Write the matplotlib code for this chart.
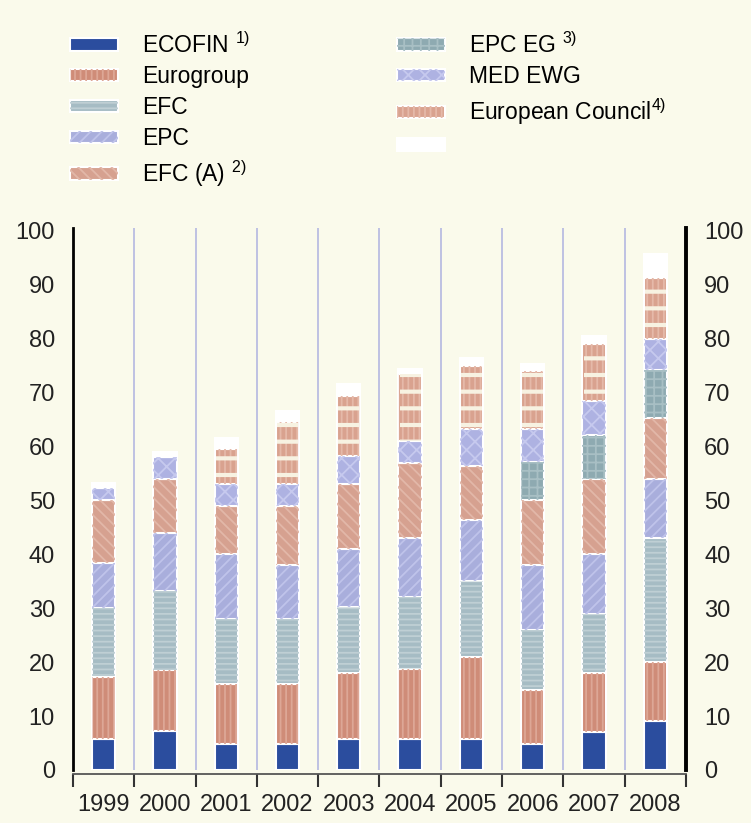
import numpy as np
import matplotlib
matplotlib.use('Agg')
import matplotlib.pyplot as plt

plt.rcParams['font.family'] = ['Liberation Sans', 'DejaVu Sans']
plt.rcParams['mathtext.fontset'] = 'custom'
plt.rcParams['mathtext.rm'] = 'Liberation Sans'
plt.rcParams['mathtext.it'] = 'Liberation Sans'
plt.rcParams['hatch.linewidth'] = 1.3

years = ['1999', '2000', '2001', '2002', '2003', '2004', '2005', '2006', '2007', '2008']

ecofin = [5.8, 7.2, 4.8, 4.8, 5.7, 5.7, 5.7, 4.8, 7.0, 9.0]
eurogroup = [11.5, 11.4, 11.2, 11.2, 12.2, 13.1, 15.3, 10.0, 11.0, 11.0]
efc = [12.7, 14.6, 12.0, 12.0, 12.4, 13.2, 14.0, 11.2, 11.0, 23.0]
epc = [8.3, 10.8, 12.0, 10.0, 10.7, 11.0, 11.3, 12.0, 11.0, 11.0]
efc_a = [11.7, 10.0, 9.0, 11.0, 12.0, 14.0, 10.0, 12.0, 14.0, 11.3]
epc_eg = [0, 0, 0, 0, 0, 0, 0, 7.2, 8.2, 8.9]
med_ewg = [2.3, 4.0, 4.0, 4.0, 5.3, 4.0, 7.0, 6.1, 6.2, 5.8]
eur_council = [0, 0, 6.6, 11.6, 11.1, 12.4, 11.7, 10.7, 10.6, 11.3]
other = [0.9, 1.0, 1.9, 1.9, 2.1, 0.9, 1.4, 1.3, 1.4, 4.3]

labels = [r'ECOFIN $^{\mathregular{1)}}$', 'Eurogroup', 'EFC', 'EPC', r'EFC (A) $^{\mathregular{2)}}$',
          r'EPC EG $^{\mathregular{3)}}$', 'MED EWG', r'European Council$^{\mathregular{4)}}$', ' ']

# base colour, hatch, hatch colour
styles = [
    ('#2B4D9E', None, None),
    ('#CF8C78', '|||', '#DDA796'),
    ('#A6BCC4', '---', '#BFCFD4'),
    ('#A9AEDC', '///', '#BFC3EA'),
    ('#D6A190', '\\\\\\', '#E2B7A8'),
    ('#8EAAB1', '++', '#A8BFC4'),
    ('#AEB2E2', 'xx', '#C6C9EE'),
    ('#D9A28F', '|||', '#E5B9A9'),
    ('#FFFFFF', None, None),
]

BG = '#FAFAEB'


def main():
    series = [ecofin, eurogroup, efc, epc, efc_a, epc_eg, med_ewg, eur_council, other]

    fig = plt.figure(figsize=(7.51, 8.23), dpi=100, facecolor=BG)
    ax = fig.add_axes([0.0972, 0.0644, 0.8162, 0.6586])
    ax.set_facecolor(BG)

    x = np.arange(len(years))
    width = 0.38
    bottom = np.zeros(len(years))
    handles = []
    for vals, (color, hatch, hcolor) in zip(series, styles):
        vals = np.array(vals)
        base = ax.bar(x, vals, width, bottom=bottom, color=color,
                      edgecolor='white', linewidth=1.5, zorder=3)
        h = base[0]
        if hatch:
            over = ax.bar(x, vals, width, bottom=bottom, color='none',
                          edgecolor=hcolor, hatch=hatch, linewidth=0, zorder=4)
            h = (base[0], over[0])
        handles.append(h)
        bottom += vals

    # cream gaps in the European Council blocks
    b_ec = np.array(ecofin) + np.array(eurogroup) + np.array(efc) + np.array(epc) \
        + np.array(efc_a) + np.array(epc_eg) + np.array(med_ewg)
    with plt.rc_context({'hatch.linewidth': 3.0}):
        ax.bar(x, eur_council, width * 0.9, bottom=b_ec, color='none',
               edgecolor='#F7F2E2', hatch='-', linewidth=0, zorder=5)

    ax.set_xlim(-0.5, 9.5)
    ax.set_ylim(0, 100.5)
    for b in np.arange(0.5, 9.5, 1):
        ax.axvline(b, color='#B9BDE2', linewidth=1.3, zorder=1)

    ax.set_yticks(np.arange(0, 101, 10))
    ax.tick_params(axis='y', length=0, labelsize=17, pad=13, labelcolor='#222222',
                   labelright=True, right=False)
    ax.set_xticks(x)
    ax.set_xticklabels(years)
    ax.set_xticks(np.arange(-0.5, 10, 1), minor=True)
    ax.tick_params(axis='x', which='major', length=0, labelsize=17, pad=14, labelcolor='#222222')
    ax.tick_params(axis='x', which='minor', length=9, width=1.5, color='#333333', direction='out')

    ax.spines['top'].set_visible(False)
    ax.spines['left'].set_linewidth(2)
    ax.spines['right'].set_linewidth(2.8)
    ax.spines['bottom'].set_position(('outward', 3))
    ax.spines['bottom'].set_color('#555555')
    ax.spines['bottom'].set_linewidth(1.3)

    leg_kw = dict(frameon=False, fontsize=16.5, handlelength=2.08, handleheight=0.45,
                  handletextpad=1.05, labelspacing=0.34, borderpad=0, borderaxespad=0,
                  loc='upper left')
    fig.legend(handles[:5], labels[:5], bbox_to_anchor=(70 / 751, 1 - 32 / 823), **leg_kw)
    fig.legend(handles[5:], labels[5:], bbox_to_anchor=(397 / 751, 1 - 32 / 823), **leg_kw)

    fig.savefig('out.png', dpi=100, facecolor=BG)


if __name__ == '__main__':
    main()
